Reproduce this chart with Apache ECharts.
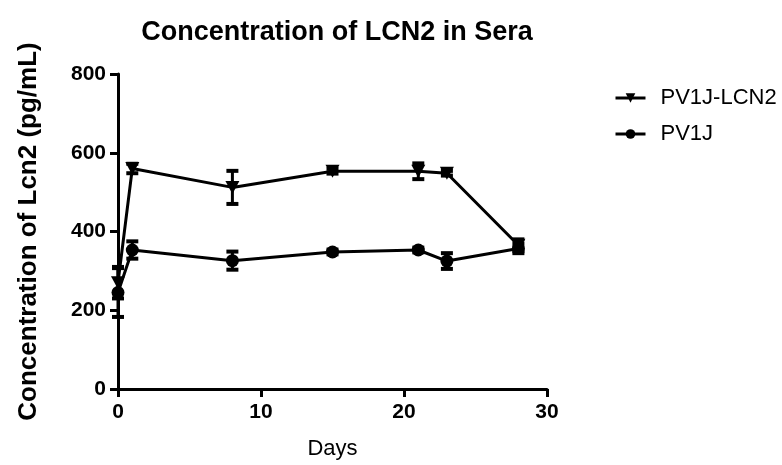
<!DOCTYPE html>
<html>
<head>
<meta charset="utf-8">
<script src="https://cdn.jsdelivr.net/npm/echarts@6/dist/echarts.min.js"></script>
<style>
html, body { margin: 0; padding: 0; background: #fff; }
#main { width: 782px; height: 465px; }
</style>
</head>
<body>
<div id="main"></div>
<script>
// days sampled
var days = [0, 1, 8, 15, 21, 23, 28];
// PV1J-LCN2 mean and SEM
var lcn2Mean = [270, 560, 512, 553, 553, 548, 365];
var lcn2Err = [40, 12, 42, 6, 20, 6, 15];
// PV1J mean and SEM
var pv1jMean = [245, 353, 326, 348, 353, 325, 357];
var pv1jErr = [62, 22, 23, 6, 6, 20, 12];

var downTri = 'path://M0,0 L10,0 L5,9 Z';
var font = 'Liberation Sans';

function pairs(x, y) {
	var out = [];
	for (var i = 0; i < x.length; i++) out.push([x[i], y[i]]);
	return out;
}
function errData(x, y, e) {
	var out = [];
	for (var i = 0; i < x.length; i++) out.push([x[i], y[i] - e[i], y[i] + e[i]]);
	return out;
}

// 误差棒
function renderErr(params, api) {
	var x = api.value(0);
	var lo = api.coord([x, api.value(1)]);
	var hi = api.coord([x, api.value(2)]);
	var half = 6;
	var st = { stroke: '#000', lineWidth: 4 };
	return {
		type: 'group',
		children: [
			{ type: 'line', shape: { x1: lo[0], y1: lo[1], x2: hi[0], y2: hi[1] }, style: { stroke: '#000', lineWidth: 3 } },
			{ type: 'line', shape: { x1: lo[0] - half, y1: lo[1], x2: lo[0] + half, y2: lo[1] }, style: st },
			{ type: 'line', shape: { x1: hi[0] - half, y1: hi[1], x2: hi[0] + half, y2: hi[1] }, style: st }
		]
	};
}

var myChart = echarts.init(document.getElementById('main'));
myChart.setOption({
	animation: false,
	title: {
		text: 'Concentration of LCN2 in Sera',
		left: 332,
		textAlign: 'center',
		top: 14,
		textStyle: { fontFamily: font, fontSize: 27, fontWeight: 'bold', color: '#000' }
	},
	legend: {
		orient: 'vertical',
		left: 609,
		top: 82,
		itemWidth: 30,
		itemHeight: 12,
		itemGap: 14,
		lineStyle: { width: 3 },
		textStyle: { fontFamily: font, fontSize: 22, color: '#000', padding: [0, 0, 0, 10] },
		data: ['PV1J-LCN2', 'PV1J']
	},
	grid: { left: 118, right: 235, top: 74, bottom: 74 },
	xAxis: {
		type: 'value',
		min: 0, max: 30, interval: 10,
		name: 'Days',
		nameLocation: 'middle',
		nameGap: 49,
		nameTextStyle: { fontFamily: font, fontSize: 22, color: '#000' },
		axisLine: { lineStyle: { color: '#000', width: 3 } },
		axisTick: { show: true, length: 8, lineStyle: { color: '#000', width: 3 } },
		axisLabel: { margin: 13, fontFamily: font, fontSize: 21, fontWeight: 'bold', color: '#000' },
		splitLine: { show: false }
	},
	yAxis: {
		type: 'value',
		min: 0, max: 800, interval: 200,
		name: 'Concentration of Lcn2 (pg/mL)',
		nameLocation: 'middle',
		nameGap: 76,
		nameTextStyle: { fontFamily: font, fontSize: 26, fontWeight: 'bold', color: '#000' },
		axisLine: { show: true, lineStyle: { color: '#000', width: 3 } },
		axisTick: { show: true, length: 8, lineStyle: { color: '#000', width: 3 } },
		axisLabel: { margin: 12, fontFamily: font, fontSize: 21, fontWeight: 'bold', color: '#000' },
		splitLine: { show: false }
	},
	series: [
		{
			name: 'PV1J-LCN2',
			type: 'line',
			data: pairs(days, lcn2Mean),
			symbol: downTri,
			symbolSize: [14, 13],
			lineStyle: { color: '#000', width: 3 },
			itemStyle: { color: '#000' },
			z: 3
		},
		{
			name: 'PV1J',
			type: 'line',
			data: pairs(days, pv1jMean),
			symbol: 'circle',
			symbolSize: 13,
			lineStyle: { color: '#000', width: 3 },
			itemStyle: { color: '#000' },
			z: 3
		},
		{
			type: 'custom',
			renderItem: renderErr,
			data: errData(days, lcn2Mean, lcn2Err),
			encode: { x: 0, y: [1, 2] },
			z: 4,
			silent: true
		},
		{
			type: 'custom',
			renderItem: renderErr,
			data: errData(days, pv1jMean, pv1jErr),
			encode: { x: 0, y: [1, 2] },
			z: 4,
			silent: true
		}
	]
});
</script>
</body>
</html>
